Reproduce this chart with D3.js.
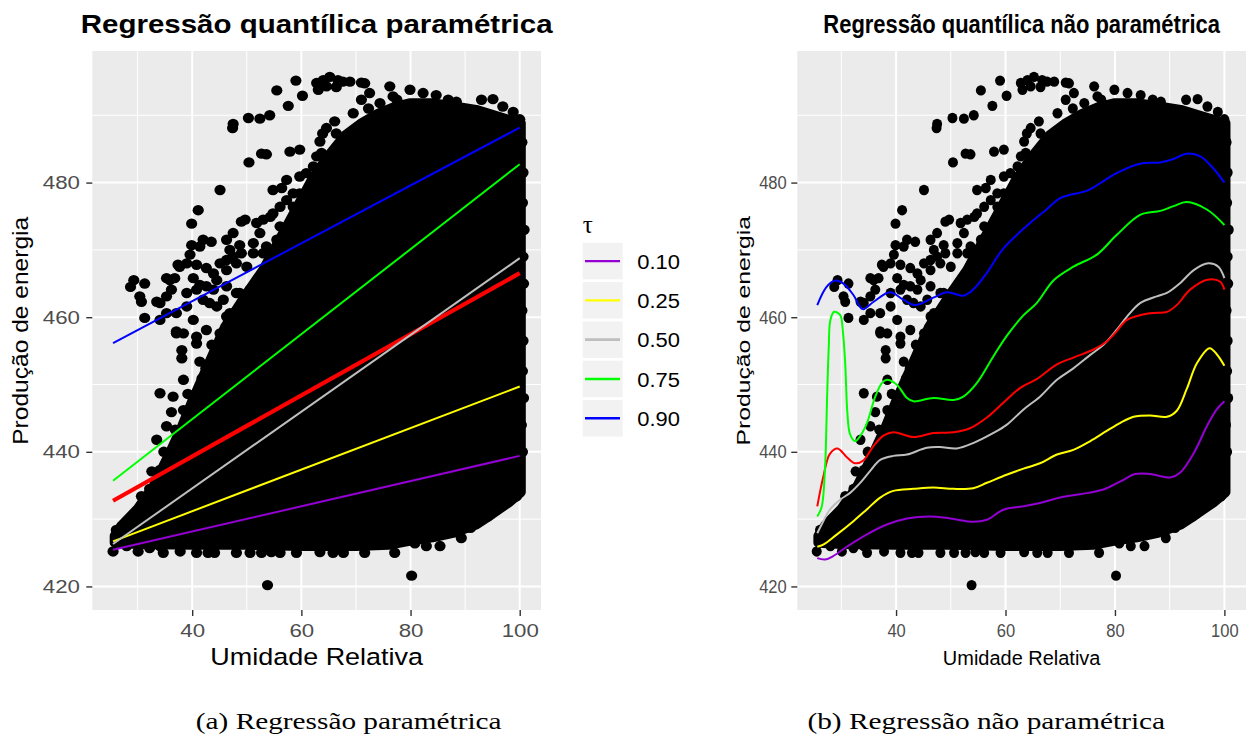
<!DOCTYPE html>
<html>
<head>
<meta charset="utf-8">
<script src="https://cdn.jsdelivr.net/npm/d3@7"></script>
<style>
  body { margin: 0; background: #ffffff; }
  svg { display: block; }
</style>
</head>
<body>
<svg id="fig" width="1253" height="737"></svg>
<script>
// ---------- data: relative humidity (x) vs energy output (y) ----------
const humidityTicks = [40, 60, 80, 100];
const humidityMinor = [30, 50, 70, 90];
const energyTicks = [420, 440, 460, 480];
const energyMinor = [430, 450, 470, 490];
const tauLabels = ["0.10", "0.25", "0.50", "0.75", "0.90"];

// linear quantile fits, fitted values at both ends of the humidity range
const fitRange = [25.5, 100];
const linearFitStart = [425.45, 426.7, 426.3, 435.7, 456.15];
const linearFitEnd = [439.4, 449.7, 468.77, 482.73, 488.17];
const meanFit = [432.73, 466.54];

// nonparametric quantile curves [humidity, energy]
const npTau10 = [[25.6,424.2],[27.0,424.0],[28.5,424.5],[31.0,425.9],[34.6,427.7],[38.3,429.2],[42.0,430.1],[46.2,430.4],[49.9,430.1],[54.1,429.6],[56.6,429.9],[59.6,431.4],[63.3,431.9],[66.3,432.4],[70.0,433.2],[73.6,433.7],[77.9,434.4],[81.0,435.6],[83.7,436.7],[86.4,436.7],[90.1,436.2],[91.9,436.9],[94.4,439.8],[96.8,443.8],[98.6,446.3],[100,447.5]];
const npTau25 = [[25.6,425.9],[26.7,426.2],[29.15,427.7],[32.2,429.7],[34.6,431.4],[37.1,433.2],[39.5,434.2],[43.2,434.5],[46.8,434.7],[50.5,434.5],[54.1,434.6],[56.6,435.4],[60.2,436.6],[63.3,437.5],[66.3,438.3],[69.4,439.6],[72.4,440.3],[75.5,441.6],[78.5,443.1],[81.0,444.3],[83.4,445.2],[86.4,445.4],[89.5,445.2],[91.3,446.1],[93.1,449.3],[95.0,453.2],[97.3,455.4],[98.6,454.5],[100,452.8]];
const npTau50 = [[25.6,427.9],[26.4,429.2],[27.9,431.4],[29.8,432.9],[31.6,433.9],[33.4,435.35],[35.2,437.1],[37.1,438.8],[39.5,439.4],[42.0,439.6],[45.6,440.6],[48.0,440.7],[51.1,440.5],[54.1,441.3],[57.8,442.8],[60.2,444.0],[63.3,446.3],[66.3,448.2],[69.4,450.7],[72.4,452.4],[75.5,454.4],[77.9,455.9],[80.3,458.1],[82.2,460.1],[84.6,462.1],[87.65,463.1],[89.5,463.6],[91.9,465.05],[94.4,467.0],[97.1,468.0],[98.9,467.5],[100,465.8]];
const npTau75 = [[25.6,430.4],[26.4,431.8],[27.0,437.3],[27.4,448.2],[27.7,455.6],[28.0,459.6],[28.7,460.8],[29.8,460.3],[30.25,458.1],[30.7,453.2],[31.1,445.8],[31.6,442.6],[32.5,441.6],[33.4,442.3],[34.6,444.1],[36.2,448.2],[37.4,450.2],[38.3,450.7],[40.1,450.0],[42.0,448.0],[43.2,447.5],[46.8,448.0],[50.5,447.7],[52.3,448.2],[54.75,450.2],[57.8,454.2],[60.2,457.2],[63.3,460.3],[65.7,462.1],[68.8,465.5],[72.4,467.5],[76.7,469.3],[80.3,472.2],[84.6,475.2],[88.3,475.8],[90.7,476.5],[93.1,477.1],[96.8,476.0],[100,473.7]];
const npTau90 = [[25.6,461.8],[27.3,464.5],[28.85,465.45],[30.4,465.0],[32.2,463.3],[33.9,461.2],[35.9,462.3],[38.9,463.7],[41.3,462.6],[43.5,461.8],[46.8,462.9],[49.3,463.7],[52.3,463.2],[54.1,464.1],[56.6,466.6],[59.6,470.2],[64.5,474.0],[67.5,476.0],[70.0,477.7],[74.9,478.8],[77.3,479.9],[80.3,481.4],[84.6,482.8],[88.3,483.0],[90.7,483.5],[93.1,484.3],[95.6,483.9],[98.0,482.1],[100,480.0]];
const npMean = [[25.6,431.9],[26.7,436.3],[27.9,439.7],[29.3,440.5],[31.0,439.2],[32.5,438.3],[34.0,438.7],[35.9,440.9],[37.7,442.4],[39.5,442.9],[43.2,442.2],[46.8,442.8],[50.5,442.9],[53.5,443.5],[56.6,445.1],[59.6,447.3],[62.7,449.5],[65.7,450.8],[69.4,453.0],[72.4,454.0],[76.1,455.2],[78.5,456.4],[80.3,457.9],[82.2,459.6],[86.4,460.6],[89.5,460.8],[91.3,461.8],[93.75,464.1],[97.1,465.6],[99.2,465.3],[100,464.1]];

// dense body of the observations: upper and lower envelope
const cloudUpper = [[25.8,427.5],[27,429],[30,431.5],[33,435],[36,440],[38,443.5],[40,447.5],[43,453],[46,458.5],[50,463.5],[53,467],[56,471.5],[59,476],[62,480.5],[65,484],[68,487],[71,488.8],[74,490.2],[77,491.2],[80,491.8],[84,491.8],[88,491.3],[92,490.8],[96,489.8],[100.2,488.8]];
const cloudLower = [[25.8,426.5],[30,426.3],[40,426.2],[50,426.2],[60,426.0],[70,426.0],[76,426.2],[80,426.8],[84,427.3],[88,428.0],[92,429.2],[95,430.8],[98,432.5],[100.2,434.0]];

// individual observations around the dense body
const observations = [
  [25.5,425.2],[26.1,428.4],[27.0,428.2],[28.0,426.0],[30.1,425.2],[30.7,428.6],[32.2,425.7],[32.6,427.6],[34.1,426.0],[34.7,425.0],[37.8,425.2],[39.0,426.4],[40.8,425.0],[42.9,425.0],[44.1,425.0],[48.1,425.0],[50.6,425.0],[52.7,425.0],[54.5,425.1],[56.1,425.0],[59.1,425.0],[63.4,425.1],[65.8,425.0],[67.7,425.0],[71.6,425.0],[77.1,425.0],[80.8,426.4],[82.9,426.0],[85.4,426.0],[86.6,428.7],[89.3,427.2],[91.0,428.7],[94.2,430.4],[95.1,431.7],[97.3,433.4],[99.4,433.4],
  [53.8,420.2],[80.2,421.6],
  [30.7,433.4],[31.9,432.4],[31.3,431.0],[32.2,434.5],[33.5,432.0],[35.9,431.0],[37.4,431.7],[32.6,437.1],[34.1,437.3],[33.5,441.8],[34.8,440.0],[35.3,443.8],[38.4,440.8],[34.1,448.7],[36.5,448.2],[38.4,450.7],[38.4,446.2],[40.5,446.2],[37.1,457.6],[40.8,456.1],[38.1,455.1],[38.1,453.9],[41.4,453.4],[43.6,455.9],
  [36.9,443.3],[39.2,448.6],[41.8,450.9],[44.4,454.2],[45.6,457.1],[47.8,459.4],[36.2,445.9],[42.5,452.4],
  [31.3,459.9],[34.1,459.6],[35.3,460.6],[37.1,460.6],[37.1,457.9],[39.0,461.6],[40.2,459.6],[42.6,458.1],[45.1,457.6],[50.0,457.6],[42.0,462.6],[44.5,461.6],[46.9,460.6],[49.4,459.6],[43.9,464.1],[46.3,464.6],[48.7,463.6],[41.4,464.8],[40.2,465.8],[35.3,465.8],[36.8,465.8],[39.0,468.0],[40.8,467.8],[42.6,467.3],[43.9,466.5],[45.1,468.0],[46.3,468.5],[47.5,469.0],[49.0,469.5],[50.0,467.5],[52.4,465.5],[53.6,467.0],[54.8,468.5],[56.1,470.0],[56.1,473.5],[58.5,473.0],[59.7,472.5],[52.4,472.5],[51.2,471.0],[53.0,469.5],[57.3,477.4],[58.5,476.4],[59.7,478.4],[60.9,481.4],[62.2,482.4],[59.7,480.9],
  [37.7,467.5],[41.4,470.5],[47.5,472.5],[49.0,474.2],[53.0,474.5],[54.8,475.4],[56.1,476.4],[58.5,478.4],[39.0,463.6],[40.8,464.1],[42.6,464.6],[44.5,465.5],[46.3,467.0],[48.1,468.0],[51.2,469.5],[53.6,470.5],[55.5,471.5],[57.3,472.5],[43.2,462.1],[45.7,462.6],[48.1,463.6],[50.6,464.1],[53.0,465.0],[55.5,466.5],[57.9,467.5],[59.7,469.5],[46.3,460.1],[48.7,461.1],[51.2,461.6],[53.6,462.6],[56.1,463.6],[58.5,464.6],[38.4,457.6],[40.8,457.1],
  [28.7,464.5],[29.3,465.5],[31.3,465.0],[30.4,463.1],[30.7,462.3],[33.5,462.3],[34.1,462.1],[35.3,463.1],[36.2,464.1],[35.9,465.5],[37.4,467.8],[39.6,469.3],[39.9,470.7],[39.9,473.9],[41.1,475.9],[45.1,478.9],[42.0,471.5],[43.5,471.2],[46.3,471.5],[48.7,470.7],[46.9,470.0],[49.7,474.5],[51.8,474.0],[54.3,474.9],[54.8,478.9],[56.4,479.2],[57.3,480.4],[57.9,484.6],[59.7,484.9],[62.8,483.9],[63.7,484.4],[52.7,484.3],[53.6,484.2],[50.4,483.0],[47.5,488.7],[47.4,488.1],[50.3,489.6],[52.4,489.5],[54.2,490.0],[57.6,491.4],[60.2,492.9],[55.5,493.7],[59.0,495.15],
  [62.8,494.8],[64.0,495.2],[65.2,495.7],[66.7,495.2],[67.6,495.0],[68.9,495.0],[71.0,494.85],[71.6,494.75],[63.1,493.8],[64.6,494.3],[66.4,494.2],[71.0,492.3],[72.5,493.3],[72.3,491.0],[76.2,494.3],[76.8,492.8],[74.4,491.8],[69.5,490.3],[66.1,489.1],[64.6,488.1],[63.9,487.3],[66.4,487.3],[63.4,486.1],[79.9,493.8],[77.5,492.3],[82.3,493.3],[84.7,493.0],[86.9,492.3],[88.4,492.0],[93.0,492.3],[95.1,492.4],[96.9,491.3],[98.8,490.5],[100.0,489.4],[95.1,487.3],[99.1,484.6],[99.4,482.9],
  [100.4,486],[100.6,481.5],[100.5,477],[100.8,473],[100.6,469],[100.7,465],[100.4,461],[100.6,456.5],[100.5,452],[100.7,448],[100.3,444],[100.5,440],[98.5,436.9],[97.6,440.6],[99.6,436.5]
];

// ---------- styling ----------
const tauColors = ["#9400D3", "#FFFF00", "#BEBEBE", "#00FF00", "#0000FF"];
const meanColor = "#FF0000";
const sans = "'Liberation Sans', Arial, Helvetica, sans-serif";
const serif = "'Liberation Serif', 'Times New Roman', serif";

const svg = d3.select("#fig");
svg.append("rect").attr("width", 1253).attr("height", 737).attr("fill", "#ffffff");

const yScale = d3.scaleLinear().domain([416.5, 499.55]).range([610, 51]);

// text set to a given width by stretching or condensing its glyphs horizontally
function fitText(parent, str, x, y, width, o) {
  const g = parent.append("g")
    .attr("transform", `translate(${x},${y})` + (o.rotate ? " rotate(-90)" : ""));
  const t = g.append("text").text(str)
    .attr("font-family", o.family || sans).attr("font-size", o.size)
    .attr("font-weight", o.weight || "normal").attr("fill", o.fill || "#000")
    .attr("text-anchor", o.anchor || "start");
  const natural = t.node().getComputedTextLength();
  t.attr("transform", `scale(${width / natural},1)`);
  return t;
}

function drawPanel(cfg) {
  const x = cfg.x;
  const y = yScale;
  const [x0, x1] = x.range();
  const [y0, y1] = [y.range()[1], y.range()[0]];
  const g = svg.append("g");

  g.append("rect").attr("x", x0).attr("y", y0).attr("width", x1 - x0).attr("height", y1 - y0)
    .attr("fill", "#EBEBEB");

  // grid
  g.selectAll(".vminor").data(humidityMinor).join("line")
    .attr("x1", d => x(d)).attr("x2", d => x(d)).attr("y1", y0).attr("y2", y1)
    .attr("stroke", "#ffffff").attr("stroke-width", 1);
  g.selectAll(".hminor").data(energyMinor).join("line")
    .attr("y1", d => y(d)).attr("y2", d => y(d)).attr("x1", x0).attr("x2", x1)
    .attr("stroke", "#ffffff").attr("stroke-width", 1);
  g.selectAll(".vmajor").data(humidityTicks).join("line")
    .attr("x1", d => x(d)).attr("x2", d => x(d)).attr("y1", y0).attr("y2", y1)
    .attr("stroke", "#ffffff").attr("stroke-width", 2);
  g.selectAll(".hmajor").data(energyTicks).join("line")
    .attr("y1", d => y(d)).attr("y2", d => y(d)).attr("x1", x0).attr("x2", x1)
    .attr("stroke", "#ffffff").attr("stroke-width", 2);

  const clipId = "clip-" + cfg.id;
  svg.append("clipPath").attr("id", clipId).append("rect")
    .attr("x", x0).attr("y", y0).attr("width", x1 - x0).attr("height", y1 - y0);
  const plot = g.append("g").attr("clip-path", `url(#${clipId})`);

  // dense body of points
  const body = cloudUpper.concat(cloudLower.slice().reverse());
  plot.append("path")
    .attr("d", d3.line().x(d => x(d[0])).y(d => y(d[1]))(body) + "Z")
    .attr("fill", "#000").attr("stroke", "#000").attr("stroke-width", 10)
    .attr("stroke-linejoin", "round");

  plot.selectAll("ellipse").data(observations).join("ellipse")
    .attr("cx", d => x(d[0])).attr("cy", d => y(d[1]))
    .attr("rx", cfg.dotRx).attr("ry", 5.2).attr("fill", "#000");

  cfg.drawFits(plot, x, y);

  // axes
  const axL = g.append("g").attr("transform", `translate(${x0},0)`)
    .call(d3.axisLeft(y).tickValues(energyTicks).tickSize(6).tickPadding(cfg.yPad).tickFormat(d3.format("d")));
  const axB = g.append("g").attr("transform", `translate(0,${y1})`)
    .call(d3.axisBottom(x).tickValues(humidityTicks).tickSize(6).tickPadding(7.6).tickFormat(d3.format("d")));
  [axL, axB].forEach(ax => {
    ax.select(".domain").remove();
    ax.selectAll(".tick line").attr("stroke", "#333333").attr("stroke-width", 1.4);
    ax.selectAll(".tick text").attr("fill", "#4D4D4D")
      .attr("font-family", sans).attr("font-size", 18.5)
      .each(function (d) {
        const t = d3.select(this);
        const s = String(d).length * cfg.digitW / this.getComputedTextLength();
        t.attr("x", (+t.attr("x") || 0) / s).attr("transform", `scale(${s},1)`);
      });
  });

  // titles
  const cx = (x0 + x1) / 2;
  fitText(g, cfg.title, cx, 33.3, cfg.titleLen, { size: 25, weight: "bold", anchor: "middle" });
  fitText(g, "Umidade Relativa", cx, 665, cfg.xTitleLen, { size: cfg.xTitleSize, anchor: "middle" });
  fitText(g, "Produção de energia", cfg.yTitleX, 330.8, cfg.yTitleLen,
    { size: cfg.yTitleSize, anchor: "middle", rotate: true });
}

// (a) linear quantile regression
drawPanel({
  id: "a",
  x: d3.scaleLinear().domain([21.7, 103.9]).range([92.3, 541]),
  title: "Regressão quantílica paramétrica", titleLen: 472,
  dotRx: 5.6, yPad: 6.3, digitW: 12.4,
  xTitleSize: 23.3, xTitleLen: 212.7,
  yTitleX: 27.9, yTitleSize: 22.7, yTitleLen: 228,
  drawFits: (plot, x, y) => {
    plot.append("line")
      .attr("x1", x(fitRange[0])).attr("y1", y(meanFit[0]))
      .attr("x2", x(fitRange[1])).attr("y2", y(meanFit[1]))
      .attr("stroke", meanColor).attr("stroke-width", 4.2);
    tauLabels.forEach((t, i) => {
      plot.append("line")
        .attr("x1", x(fitRange[0])).attr("y1", y(linearFitStart[i]))
        .attr("x2", x(fitRange[1])).attr("y2", y(linearFitEnd[i]))
        .attr("stroke", tauColors[i]).attr("stroke-width", 2);
    });
  }
});

// (b) nonparametric quantile regression
drawPanel({
  id: "b",
  x: d3.scaleLinear().domain([21.95, 103.95]).range([797.3, 1246]),
  title: "Regressão quantílica não paramétrica", titleLen: 397,
  dotRx: 5.0, yPad: 4.6, digitW: 9.2,
  xTitleSize: 21, xTitleLen: 157.7,
  yTitleX: 749.6, yTitleSize: 18, yTitleLen: 229.7,
  drawFits: (plot, x, y) => {
    const curve = d3.line().x(d => x(d[0])).y(d => y(d[1])).curve(d3.curveCatmullRom.alpha(0.5));
    const series = [npTau10, npTau25, npTau50, npMean, npTau75, npTau90];
    const colors = [tauColors[0], tauColors[1], tauColors[2], meanColor, tauColors[3], tauColors[4]];
    series.forEach((s, i) => {
      plot.append("path").attr("d", curve(s)).attr("fill", "none")
        .attr("stroke", colors[i]).attr("stroke-width", 2);
    });
  }
});

// legend (tau)
const legend = svg.append("g");
legend.append("text").text("τ").attr("x", 582.7).attr("y", 233.3)
  .attr("font-family", serif).attr("font-size", 25).attr("fill", "#000");
tauLabels.forEach((t, i) => {
  const top = 242.8 + i * 39.3;
  legend.append("rect").attr("x", 582.7).attr("y", top).attr("width", 40).attr("height", 36.5)
    .attr("fill", "#F2F2F2");
  legend.append("line").attr("x1", 585).attr("x2", 620)
    .attr("y1", top + 18.3).attr("y2", top + 18.3)
    .attr("stroke", tauColors[i]).attr("stroke-width", i === 2 ? 2.8 : 2.4);
  fitText(legend, t, 637.3, top + 25.8, 42.7, { size: 19.4 });
});

// sub-figure captions
fitText(svg, "(a) Regressão paramétrica", 195.8, 729, 306, { size: 23, family: serif });
fitText(svg, "(b) Regressão não paramétrica", 807.4, 729, 358, { size: 23, family: serif });
</script>
</body>
</html>
